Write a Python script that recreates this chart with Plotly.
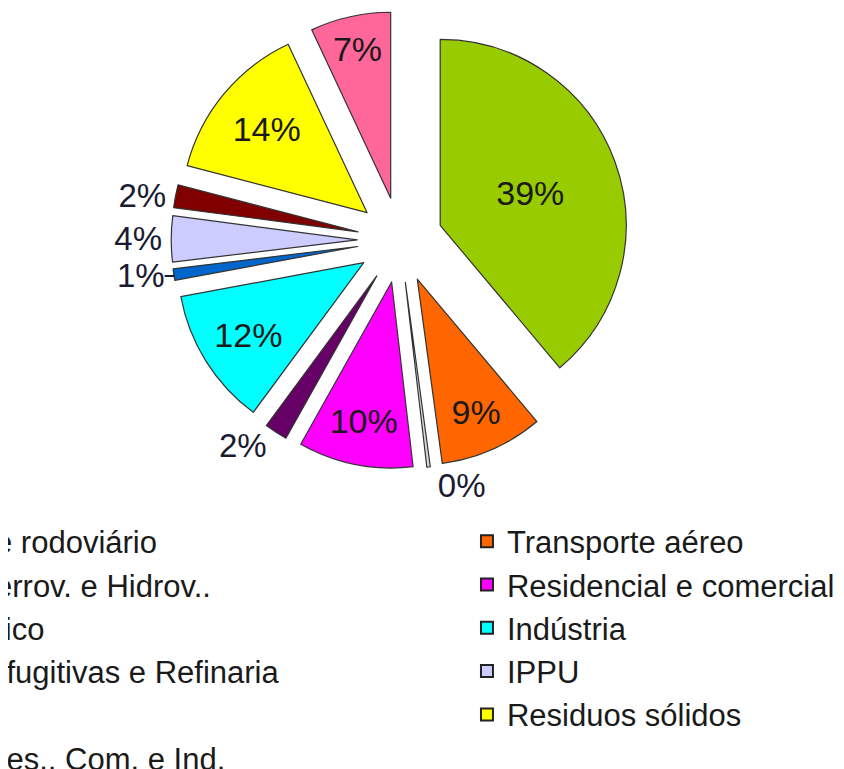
import plotly.graph_objects as go

labels = [
    "Transporte rodoviário",
    "Transporte aéreo",
    "Transp. Ferrov. e Hidrov..",
    "Residencial e comercial",
    "Setor público",
    "Indústria",
    "Emissões fugitivas e Refinaria",
    "IPPU",
    "AFOLU",
    "Residuos sólidos",
    "Esgotos Res., Com. e Ind.",
]
values = [39, 9, 0.3, 10, 2, 12, 1, 4, 2, 14, 7]
colors = ["#99CC00", "#FF6600", "#D9D9D9", "#FF00FF", "#660066", "#00FFFF",
          "#0066CC", "#CCCCFF", "#800000", "#FFFF00", "#FF6699"]
text_pos = ["inside", "inside", "outside", "inside", "outside", "inside",
            "outside", "outside", "outside", "inside", "inside"]

FONT = "Liberation Sans, Arial"

fig = go.Figure()
fig.add_trace(go.Pie(
    labels=labels,
    values=values,
    sort=False,
    direction="clockwise",
    rotation=0,
    pull=[0.23] * len(values),
    marker=dict(colors=colors, line=dict(color="#333333", width=1.2)),
    texttemplate="%{percent:.0%}",
    textposition=text_pos,
    insidetextorientation="horizontal",
    textfont=dict(family=FONT, size=34, color="#1a1a1a"),
    outsidetextfont=dict(family=FONT, size=33, color="#1a1a33"),
    domain=dict(x=[0.1934, 0.7355], y=[0.4008, 0.9958]),
    showlegend=False,
    hoverinfo="label+percent",
))

# legend keys (two columns, filled row by row as in the original chart)
for i, (lab, col) in enumerate(zip(labels, colors)):
    fig.add_trace(go.Bar(
        x=[None], y=[None], name=lab,
        marker=dict(color=col, line=dict(color="#222222", width=2)),
        legend="legend" if i % 2 == 0 else "legend2",
        showlegend=True, hoverinfo="skip",
    ))

legend_font = dict(family=FONT, size=31, color="#1a1a1a")
fig.update_layout(
    width=844,
    height=769,
    margin=dict(l=0, r=0, t=0, b=0, autoexpand=False),
    paper_bgcolor="white",
    plot_bgcolor="white",
    xaxis=dict(visible=False),
    yaxis=dict(visible=False),
    legend=dict(
        orientation="v", x=-0.2186, xanchor="left", y=0.3413, yanchor="top",
        font=legend_font, traceorder="normal", bgcolor="rgba(0,0,0,0)",
        tracegroupgap=0,
    ),
    legend2=dict(
        orientation="v", x=0.5438, xanchor="left", y=0.3413, yanchor="top",
        font=legend_font, traceorder="normal", bgcolor="rgba(0,0,0,0)",
        tracegroupgap=0,
    ),
)

fig.write_html("out.html")
